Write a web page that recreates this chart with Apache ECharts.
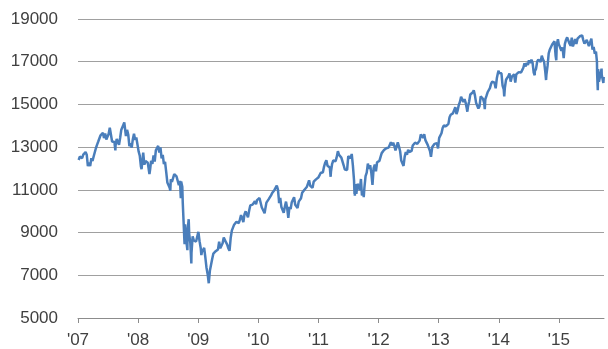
<!DOCTYPE html>
<html>
<head>
<meta charset="utf-8">
<script src="https://cdn.jsdelivr.net/npm/echarts@6/dist/echarts.min.js"></script>
<style>
  html, body { margin: 0; padding: 0; background: #ffffff; }
  #chart { width: 608px; height: 349px; }
</style>
</head>
<body>
<div id="chart"></div>
<script>
// Dow Jones Industrial Average, weekly closes plus a few notable daily extremes
const dow2007 = [
  ['2007-01-05',12398],['2007-01-12',12556],['2007-01-19',12566],['2007-01-26',12487],
  ['2007-02-02',12653],['2007-02-09',12581],['2007-02-16',12768],['2007-02-23',12647],
  ['2007-03-02',12114],['2007-03-09',12277],['2007-03-16',12111],['2007-03-23',12481],
  ['2007-03-30',12354],['2007-04-06',12560],['2007-04-13',12612],['2007-04-20',12961],
  ['2007-04-27',13120],['2007-05-04',13264],['2007-05-11',13327],['2007-05-18',13556],
  ['2007-05-25',13507],['2007-06-01',13668],['2007-06-08',13424],['2007-06-15',13639],
  ['2007-06-22',13360],['2007-06-29',13408],['2007-07-06',13611],['2007-07-13',13907],
  ['2007-07-20',13851],['2007-07-27',13265],['2007-08-03',13182],['2007-08-10',13240],
  ['2007-08-16',12845],['2007-08-17',13079],['2007-08-24',13379],['2007-08-31',13358],
  ['2007-09-07',13113],['2007-09-14',13442],['2007-09-21',13820],['2007-09-28',13896],
  ['2007-10-05',14066],['2007-10-09',14164],['2007-10-12',14093],['2007-10-19',13522],
  ['2007-10-26',13807],['2007-11-02',13595],['2007-11-09',13042],['2007-11-16',13177],
  ['2007-11-23',12980],['2007-11-30',13372],['2007-12-07',13625],['2007-12-14',13340],
  ['2007-12-21',13451],['2007-12-28',13366]
];
const dow2008 = [
  ['2008-01-04',12800],['2008-01-11',12606],['2008-01-18',12099],['2008-01-22',11971],
  ['2008-01-25',12207],['2008-02-01',12743],['2008-02-08',12182],['2008-02-15',12348],
  ['2008-02-22',12381],['2008-02-29',12266],['2008-03-07',11894],['2008-03-10',11740],
  ['2008-03-14',11951],['2008-03-20',12361],['2008-03-28',12216],['2008-04-04',12610],
  ['2008-04-11',12325],['2008-04-18',12849],['2008-04-25',12891],['2008-05-02',13058],
  ['2008-05-09',12746],['2008-05-16',12986],['2008-05-23',12480],['2008-05-30',12638],
  ['2008-06-06',12210],['2008-06-13',12307],['2008-06-20',11843],['2008-06-27',11346],
  ['2008-07-03',11289],['2008-07-11',11100],['2008-07-15',10962],['2008-07-18',11496],
  ['2008-07-25',11370],['2008-08-01',11327],['2008-08-08',11734],['2008-08-15',11660],
  ['2008-08-22',11628],['2008-08-29',11544],['2008-09-05',11220],['2008-09-12',11422],
  ['2008-09-17',10609],['2008-09-19',11388],['2008-09-26',11143],['2008-09-29',10365],
  ['2008-10-03',10325],['2008-10-09',8579],['2008-10-10',8451],['2008-10-13',9387],
  ['2008-10-17',8852],['2008-10-24',8378],['2008-10-27',8176],['2008-10-28',9065],
  ['2008-10-31',9325],['2008-11-04',9625],['2008-11-07',8943],['2008-11-14',8497],
  ['2008-11-20',7552],['2008-11-21',8046],['2008-11-28',8829],['2008-12-05',8635],
  ['2008-12-12',8629],['2008-12-19',8579],['2008-12-26',8515]
];
const dow2009 = [
  ['2009-01-02',9034],['2009-01-06',9015],['2009-01-09',8599],['2009-01-16',8281],
  ['2009-01-20',7949],['2009-01-23',8077],['2009-01-30',8000],['2009-02-06',8280],
  ['2009-02-13',7850],['2009-02-20',7366],['2009-02-27',7063],['2009-03-06',6627],
  ['2009-03-09',6547],['2009-03-13',7224],['2009-03-20',7279],['2009-03-27',7776],
  ['2009-04-03',8018],['2009-04-09',8083],['2009-04-17',8131],['2009-04-24',8076],
  ['2009-05-01',8212],['2009-05-08',8575],['2009-05-15',8268],['2009-05-22',8277],
  ['2009-05-29',8500],['2009-06-05',8764],['2009-06-12',8799],['2009-06-19',8539],
  ['2009-06-26',8438],['2009-07-02',8280],['2009-07-10',8146],['2009-07-17',8743],
  ['2009-07-24',9093],['2009-07-31',9171],['2009-08-07',9370],['2009-08-14',9321],
  ['2009-08-21',9505],['2009-08-28',9544],['2009-09-04',9441],['2009-09-11',9605],
  ['2009-09-18',9820],['2009-09-25',9665],['2009-10-02',9487],['2009-10-09',9864],
  ['2009-10-16',9995],['2009-10-23',9972],['2009-10-30',9712],['2009-11-06',10023],
  ['2009-11-13',10270],['2009-11-20',10318],['2009-11-27',10309],['2009-12-04',10388],
  ['2009-12-11',10471],['2009-12-18',10328],['2009-12-24',10520],['2009-12-31',10428]
];
const dow2010 = [
  ['2010-01-08',10618],['2010-01-15',10610],['2010-01-22',10172],['2010-01-29',10067],
  ['2010-02-05',10012],['2010-02-08',9908],['2010-02-12',10099],['2010-02-19',10402],
  ['2010-02-26',10325],['2010-03-05',10566],['2010-03-12',10625],['2010-03-19',10742],
  ['2010-03-26',10850],['2010-04-02',10927],['2010-04-09',10997],['2010-04-16',11019],
  ['2010-04-23',11204],['2010-04-30',11009],['2010-05-06',10520],['2010-05-07',10380],
  ['2010-05-14',10620],['2010-05-21',10193],['2010-05-28',10137],['2010-06-04',9931],
  ['2010-06-11',10211],['2010-06-18',10450],['2010-06-25',10143],['2010-07-02',9686],
  ['2010-07-09',10198],['2010-07-16',10097],['2010-07-23',10424],['2010-07-30',10466],
  ['2010-08-06',10653],['2010-08-13',10303],['2010-08-20',10213],['2010-08-27',10150],
  ['2010-09-03',10447],['2010-09-10',10462],['2010-09-17',10607],['2010-09-24',10860],
  ['2010-10-01',10829],['2010-10-08',11006],['2010-10-15',11062],['2010-10-22',11132],
  ['2010-10-29',11118],['2010-11-05',11444],['2010-11-12',11192],['2010-11-19',11203],
  ['2010-11-26',11092],['2010-12-03',11382],['2010-12-10',11410],['2010-12-17',11491],
  ['2010-12-23',11573],['2010-12-31',11577]
];
const dow2011 = [
  ['2011-01-07',11674],['2011-01-14',11787],['2011-01-21',11871],['2011-01-28',11823],
  ['2011-02-04',12092],['2011-02-11',12273],['2011-02-18',12391],['2011-02-25',12130],
  ['2011-03-04',12169],['2011-03-11',12044],['2011-03-16',11613],['2011-03-18',11858],
  ['2011-03-25',12220],['2011-04-01',12376],['2011-04-08',12380],['2011-04-15',12342],
  ['2011-04-21',12505],['2011-04-29',12810],['2011-05-06',12638],['2011-05-13',12595],
  ['2011-05-20',12512],['2011-05-27',12441],['2011-06-03',12151],['2011-06-10',11952],
  ['2011-06-17',12004],['2011-06-24',11934],['2011-07-01',12582],['2011-07-08',12657],
  ['2011-07-15',12479],['2011-07-22',12681],['2011-07-29',12143],['2011-08-05',11444],
  ['2011-08-08',10810],['2011-08-09',11240],['2011-08-10',10720],['2011-08-12',11269],
  ['2011-08-19',10817],['2011-08-26',11284],['2011-09-02',11240],['2011-09-09',10992],
  ['2011-09-16',11509],['2011-09-22',10734],['2011-09-23',10771],['2011-09-30',10913],
  ['2011-10-03',10655],['2011-10-07',11103],['2011-10-14',11644],['2011-10-21',11808],
  ['2011-10-28',12231],['2011-11-04',11983],['2011-11-11',12153],['2011-11-18',11796],
  ['2011-11-25',11231],['2011-12-02',12019],['2011-12-09',12184],['2011-12-16',11867],
  ['2011-12-23',12294],['2011-12-30',12218]
];
const dow2012 = [
  ['2012-01-06',12360],['2012-01-13',12422],['2012-01-20',12720],['2012-01-27',12660],
  ['2012-02-03',12862],['2012-02-10',12801],['2012-02-17',12950],['2012-02-24',12983],
  ['2012-03-02',12978],['2012-03-09',12922],['2012-03-16',13233],['2012-03-23',13081],
  ['2012-03-30',13212],['2012-04-06',13060],['2012-04-13',12850],['2012-04-20',13029],
  ['2012-04-27',13229],['2012-05-04',13038],['2012-05-11',12821],['2012-05-18',12369],
  ['2012-05-25',12455],['2012-06-01',12119],['2012-06-08',12554],['2012-06-15',12767],
  ['2012-06-22',12640],['2012-06-29',12880],['2012-07-06',12773],['2012-07-13',12777],
  ['2012-07-20',12822],['2012-07-27',13075],['2012-08-03',13096],['2012-08-10',13207],
  ['2012-08-17',13275],['2012-08-24',13157],['2012-08-31',13090],['2012-09-07',13306],
  ['2012-09-14',13593],['2012-09-21',13579],['2012-09-28',13437],['2012-10-05',13610],
  ['2012-10-12',13328],['2012-10-19',13343],['2012-10-26',13107],['2012-11-02',13093],
  ['2012-11-09',12815],['2012-11-15',12543],['2012-11-16',12588],['2012-11-23',13010],
  ['2012-11-30',13025],['2012-12-07',13155],['2012-12-14',13135],['2012-12-21',13190],
  ['2012-12-28',12938]
];
const dow2013 = [
  ['2013-01-04',13435],['2013-01-11',13488],['2013-01-18',13650],['2013-01-25',13896],
  ['2013-02-01',14010],['2013-02-08',13993],['2013-02-15',13982],['2013-02-22',14001],
  ['2013-03-01',14090],['2013-03-08',14397],['2013-03-15',14515],['2013-03-22',14512],
  ['2013-03-28',14579],['2013-04-05',14565],['2013-04-12',14865],['2013-04-19',14547],
  ['2013-04-26',14713],['2013-05-03',14974],['2013-05-10',15118],['2013-05-17',15354],
  ['2013-05-24',15304],['2013-05-31',15116],['2013-06-07',15248],['2013-06-14',15070],
  ['2013-06-21',14800],['2013-06-24',14660],['2013-06-28',14910],['2013-07-05',15136],
  ['2013-07-12',15464],['2013-07-19',15543],['2013-07-26',15559],['2013-08-02',15659],
  ['2013-08-09',15425],['2013-08-16',15082],['2013-08-23',15010],['2013-08-30',14810],
  ['2013-09-06',14922],['2013-09-13',15376],['2013-09-20',15452],['2013-09-27',15259],
  ['2013-10-04',15073],['2013-10-08',14776],['2013-10-11',15237],['2013-10-18',15400],
  ['2013-10-25',15570],['2013-11-01',15615],['2013-11-08',15762],['2013-11-15',15962],
  ['2013-11-22',16065],['2013-11-29',16086],['2013-12-06',16020],['2013-12-13',15755],
  ['2013-12-20',16221],['2013-12-27',16479],['2013-12-31',16577]
];
const dow2014 = [
  ['2014-01-03',16470],['2014-01-10',16437],['2014-01-17',16458],['2014-01-24',15880],
  ['2014-01-31',15699],['2014-02-03',15373],['2014-02-07',15794],['2014-02-14',16154],
  ['2014-02-21',16103],['2014-02-28',16322],['2014-03-07',16453],['2014-03-14',16066],
  ['2014-03-21',16303],['2014-03-28',16323],['2014-04-04',16413],['2014-04-11',16027],
  ['2014-04-17',16409],['2014-04-25',16361],['2014-05-02',16513],['2014-05-09',16583],
  ['2014-05-16',16491],['2014-05-23',16606],['2014-05-30',16717],['2014-06-06',16924],
  ['2014-06-13',16776],['2014-06-20',16947],['2014-06-27',16851],['2014-07-03',17068],
  ['2014-07-11',16944],['2014-07-18',17100],['2014-07-25',16961],['2014-08-01',16493],
  ['2014-08-07',16369],['2014-08-08',16553],['2014-08-15',16663],['2014-08-22',17001],
  ['2014-08-29',17098],['2014-09-05',17137],['2014-09-12',16988],['2014-09-19',17280],
  ['2014-09-26',17113],['2014-10-03',17009],['2014-10-10',16544],['2014-10-15',16142],
  ['2014-10-17',16380],['2014-10-24',16805],['2014-10-31',17391],['2014-11-07',17573],
  ['2014-11-14',17634],['2014-11-21',17810],['2014-11-28',17828],['2014-12-05',17958],
  ['2014-12-12',17280],['2014-12-16',17068],['2014-12-19',17804],['2014-12-26',18053],
  ['2014-12-31',17823]
];
const dow2015 = [
  ['2015-01-02',17833],['2015-01-09',17737],['2015-01-16',17511],['2015-01-23',17672],
  ['2015-01-30',17165],['2015-02-06',17824],['2015-02-13',18019],['2015-02-20',18140],
  ['2015-02-27',18133],['2015-03-06',17856],['2015-03-13',17749],['2015-03-20',18128],
  ['2015-03-27',17713],['2015-04-02',17763],['2015-04-10',18057],['2015-04-17',17826],
  ['2015-04-24',18080],['2015-05-01',18024],['2015-05-08',18191],['2015-05-15',18272],
  ['2015-05-22',18232],['2015-05-29',18011],['2015-06-05',17849],['2015-06-12',17899],
  ['2015-06-19',18015],['2015-06-26',17947],['2015-07-02',17730],['2015-07-10',17760],
  ['2015-07-17',18086],['2015-07-24',17568],['2015-07-31',17690],['2015-08-07',17373],
  ['2015-08-14',17477],['2015-08-20',16990],['2015-08-21',16460],['2015-08-24',15871],
  ['2015-08-25',15666],['2015-08-27',16655],['2015-08-28',16643],['2015-09-01',16058],
  ['2015-09-04',16102],['2015-09-11',16433],['2015-09-17',16675],['2015-09-18',16385],
  ['2015-09-25',16315],['2015-09-28',16001],['2015-09-30',16285]
];

// Year tick labels along the bottom
const yearTicks = [2007, 2008, 2009, 2010, 2011, 2012, 2013, 2014, 2015];
const yearLabels = ["'07", "'08", "'09", "'10", "'11", "'12", "'13", "'14", "'15"];

// Turn a YYYY-MM-DD date into a fractional year so one unit = one year
function toYearFraction(s) {
  const [y, m, d] = s.split('-').map(Number);
  const start = Date.UTC(y, 0, 1);
  const end = Date.UTC(y + 1, 0, 1);
  return y + (Date.UTC(y, m - 1, d) - start) / (end - start);
}

const closes = [].concat(dow2007, dow2008, dow2009, dow2010, dow2011,
                         dow2012, dow2013, dow2014, dow2015)
  .map(([d, v]) => [toYearFraction(d), v]);

const textColor = '#404040';
const fontFamily = '"Liberation Sans", Arial, sans-serif';

const chart = echarts.init(document.getElementById('chart'), null, { renderer: 'canvas' });
chart.setOption({
  animation: false,
  backgroundColor: '#ffffff',
  grid: { left: 78, right: 4, top: 19, bottom: 29, containLabel: false },
  xAxis: {
    type: 'value',
    min: 2007,
    max: 2015.75,
    interval: 1,
    axisLine: { show: true, lineStyle: { color: '#8c8c8c', width: 1 } },
    axisTick: {
      show: true, length: 5, inside: false,
      customValues: yearTicks,
      lineStyle: { color: '#8c8c8c', width: 1 }
    },
    axisLabel: {
      customValues: yearTicks,
      margin: 14,
      color: textColor,
      fontFamily: fontFamily,
      fontSize: 17,
      formatter: v => yearLabels[yearTicks.indexOf(Math.round(v))] || ''
    },
    splitLine: { show: false }
  },
  yAxis: {
    type: 'value',
    min: 5000,
    max: 19000,
    interval: 2000,
    axisLine: { show: false },
    axisTick: { show: false },
    axisLabel: {
      margin: 20,
      color: textColor,
      fontFamily: fontFamily,
      fontSize: 17,
      formatter: v => String(v)
    },
    splitLine: { show: true, lineStyle: { color: '#a0a0a0', width: 1 } }
  },
  series: [{
    type: 'line',
    data: closes,
    showSymbol: false,
    symbol: 'none',
    smooth: false,
    lineStyle: { color: '#4a7ebb', width: 2.5 },
    z: 3
  }]
});
</script>
</body>
</html>
